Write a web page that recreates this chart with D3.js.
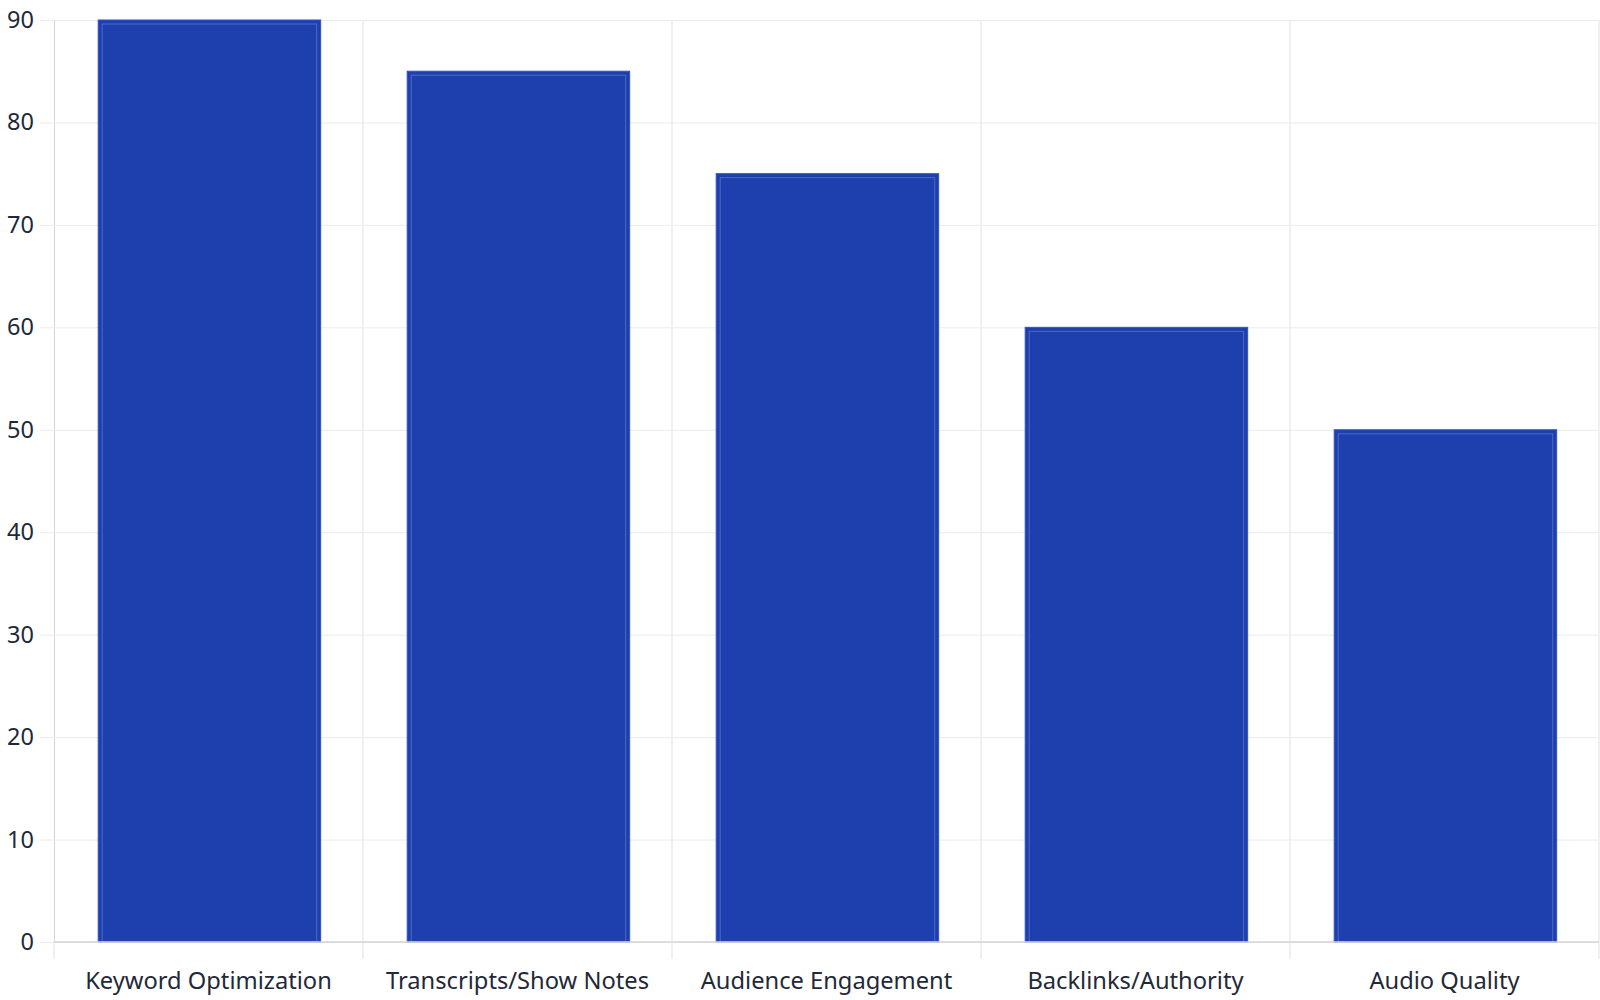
<!DOCTYPE html>
<html>
<head>
<meta charset="utf-8">
<script src="https://cdn.jsdelivr.net/npm/d3@7"></script>
<style>
  body { margin: 0; background: #fff; }
  text { font-family: "Noto Sans", sans-serif; fill: #1f2937; }
</style>
</head>
<body>
<svg id="chart" width="1600" height="1000"></svg>
<script>
const width = 1600;
const height = 1000;
const margin = {top: 20, right: 1, bottom: 58, left: 54};

const categories = ["Keyword Optimization", "Transcripts/Show Notes", "Audience Engagement", "Backlinks/Authority", "Audio Quality"];
const scores = [90, 85, 75, 60, 50];
const yTicks = [0, 10, 20, 30, 40, 50, 60, 70, 80, 90];

const svg = d3.select("#chart");

const x = d3.scaleBand()
  .domain(categories)
  .range([margin.left, width - margin.right])
  .padding(0);

const y = d3.scaleLinear()
  .domain([0, 90])
  .range([height - margin.bottom, margin.top]);

// horizontal grid + y labels
const yAxis = svg.append("g")
  .attr("transform", `translate(${margin.left},0)`)
  .call(d3.axisLeft(y).tickValues(yTicks).tickSize(14).tickPadding(6));
yAxis.select(".domain").attr("stroke", "#d4d4d4");
yAxis.selectAll(".tick line").attr("stroke", "#ebebeb").attr("x2", width - margin.right - margin.left);
yAxis.selectAll(".tick line").attr("x1", -14);
yAxis.selectAll(".tick text").style("font-size", "23.5px").attr("fill", "#1f2937");

// vertical grid at band boundaries
const bounds = categories.map(c => x(c)).concat([width - margin.right]);
svg.append("g").selectAll("line")
  .data(bounds.slice(1))
  .enter()
  .append("line")
  .attr("x1", d => d).attr("x2", d => d)
  .attr("y1", margin.top).attr("y2", height - margin.bottom + 17)
  .attr("stroke", "#ebebeb")
  .attr("stroke-width", 1.5);
svg.append("line")
  .attr("x1", margin.left).attr("x2", margin.left)
  .attr("y1", height - margin.bottom).attr("y2", height - margin.bottom + 17)
  .attr("stroke", "#ebebeb").attr("stroke-width", 1.5);

// bars
const bw = x.bandwidth();
const bars = svg.append("g").selectAll("g")
  .data(categories)
  .enter()
  .append("g");

bars.append("rect")
  .attr("x", (d) => x(d) + bw * 0.143)
  .attr("y", (d, i) => y(scores[i]))
  .attr("width", bw * 0.72)
  .attr("height", (d, i) => y(0) - y(scores[i]))
  .attr("fill", "#1e40af")
  .attr("stroke", "#2f52c4")
  .attr("stroke-width", 1);

bars.append("rect") // inner highlight line
  .attr("x", (d) => x(d) + bw * 0.143 + 4)
  .attr("y", (d, i) => y(scores[i]) + 4)
  .attr("width", bw * 0.72 - 8)
  .attr("height", (d, i) => y(0) - y(scores[i]) - 4)
  .attr("fill", "none")
  .attr("stroke", "rgba(255,255,255,0.22)")
  .attr("stroke-width", 1);

// x axis line
svg.append("line")
  .attr("x1", margin.left).attr("x2", width - margin.right)
  .attr("y1", y(0)).attr("y2", y(0))
  .attr("stroke", "#d4d4d4").attr("stroke-width", 1.5);

// x labels
svg.append("g").selectAll("text")
  .data(categories)
  .enter()
  .append("text")
  .attr("x", d => x(d) + bw / 2)
  .attr("y", 989)
  .attr("text-anchor", "middle")
  .style("font-size", "23.7px")
  .text(d => d);
</script>
</body>
</html>
